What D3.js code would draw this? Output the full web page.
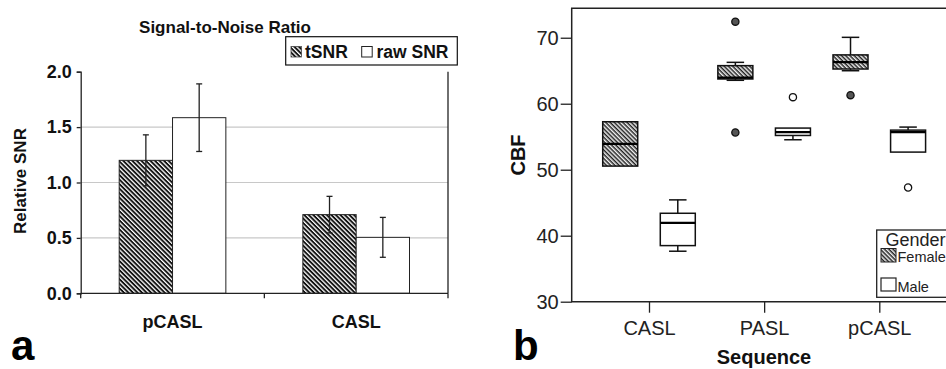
<!DOCTYPE html>
<html>
<head>
<meta charset="utf-8">
<script src="https://cdn.jsdelivr.net/npm/d3@7"></script>
<style>
  body { margin: 0; background: #fff; }
  svg { display: block; font-family: "Liberation Sans", Arial, sans-serif; }
</style>
</head>
<body>
<svg id="chart" width="946" height="369"></svg>
<script>
// ---- panel a data
const snrCategories = ['pCASL', 'CASL']
const snrSeries = ['tSNR', 'raw SNR']
const tsnrValues = [1.20, 0.71]
const tsnrErrors = [0.23, 0.165]
const rawValues = [1.585, 0.505]
const rawErrors = [0.305, 0.18]
const snrTicks = [0, 0.5, 1.0, 1.5, 2.0]

// ---- panel b data (box plot stats)
const seqCategories = ['CASL', 'PASL', 'pCASL']
const genders = ['Female', 'Male']
const femaleMin = [50.55, 63.55, 65.0]
const femaleQ1 = [50.55, 63.75, 65.26]
const femaleMedian = [53.93, 63.95, 66.3]
const femaleQ3 = [57.27, 65.77, 67.4]
const femaleMax = [57.27, 66.27, 70.06]
const femaleOutliers = [[], [72.44, 55.65], [61.3]]
const maleMin = [37.65, 54.54, 52.67]
const maleQ1 = [38.5, 55.19, 52.67]
const maleMedian = [41.94, 55.7, 55.7]
const maleQ3 = [43.4, 56.31, 56.0]
const maleMax = [45.43, 56.31, 56.46]
const maleOutliers = [[], [61.0], [47.3]]
const cbfTicks = [30, 40, 50, 60, 70]

const svg = d3.select('#chart')
const defs = svg.append('defs')

// Hatch patterns
function addHatch(id, size, lineW, color, bg){
    const p = defs.append('pattern')
        .attr('id', id)
        .attr('patternUnits', 'userSpaceOnUse')
        .attr('width', size)
        .attr('height', size)
        .attr('patternTransform', 'rotate(45)')
    p.append('rect').attr('width', size).attr('height', size).attr('fill', bg)
    p.append('rect').attr('width', size).attr('height', lineW).attr('fill', color)
}
addHatch('hatchA', 3.2, 1.9, '#111', '#fff')
addHatch('hatchB', 3.0, 1.5, '#222', '#f2f2f2')

// ================= Panel a =================
const a = svg.append('g').attr('font-weight', 'bold')

const yA = d3.scaleLinear().domain([0, 2]).range([293.3, 71.7])
const x0 = d3.scaleBand().domain(snrCategories).range([80.7, 448])
const x1 = d3.scaleBand().domain(snrSeries).range([38.5, x0.bandwidth() - 38.5])

// Gridlines
a.append('g')
    .selectAll('line')
    .data(snrTicks.filter(d => d > 0 && d < 2))
    .join('line')
    .attr('x1', 80.7).attr('x2', 448)
    .attr('y1', d => yA(d)).attr('y2', d => yA(d))
    .attr('stroke', '#c8c8c8').attr('stroke-width', 1.2)

// Bars
const barData = []
snrCategories.forEach(function(c, i){
    barData.push({cat: c, s: 'tSNR', v: tsnrValues[i], e: tsnrErrors[i]})
    barData.push({cat: c, s: 'raw SNR', v: rawValues[i], e: rawErrors[i]})
})

a.append('g')
    .selectAll('rect')
    .data(barData)
    .join('rect')
    .attr('x', d => x0(d.cat) + x1(d.s))
    .attr('y', d => yA(d.v))
    .attr('width', x1.bandwidth())
    .attr('height', d => yA(0) - yA(d.v))
    .attr('fill', d => d.s == 'tSNR' ? 'url(#hatchA)' : '#fff')
    .attr('stroke', '#222')
    .attr('stroke-width', 1)

// Error bars
const errG = a.append('g').attr('stroke', '#222').attr('stroke-width', 1.3)
barData.forEach(function(d){
    const cx = x0(d.cat) + x1(d.s) + x1.bandwidth() / 2
    errG.append('line').attr('x1', cx).attr('x2', cx).attr('y1', yA(d.v + d.e)).attr('y2', yA(d.v - d.e))
    errG.append('line').attr('x1', cx - 3).attr('x2', cx + 3).attr('y1', yA(d.v + d.e)).attr('y2', yA(d.v + d.e))
    errG.append('line').attr('x1', cx - 3).attr('x2', cx + 3).attr('y1', yA(d.v - d.e)).attr('y2', yA(d.v - d.e))
})

// Y axis
const yAxisA = a.append('g')
    .attr('transform', 'translate(80.7,0)')
    .call(d3.axisLeft(yA).tickValues(snrTicks).tickFormat(d3.format('.1f')).tickSize(4).tickPadding(5))
yAxisA.select('.domain').attr('stroke', '#222').attr('stroke-width', 1.3)
yAxisA.selectAll('.tick line').attr('stroke', '#222').attr('stroke-width', 1.3)
yAxisA.selectAll('text').attr('font-size', 18).attr('font-family', 'Liberation Sans, Arial').attr('font-weight', 'bold').attr('fill', '#111')

// X axis line + ticks at band edges
a.append('line').attr('x1', 80.7).attr('x2', 448).attr('y1', yA(0)).attr('y2', yA(0))
    .attr('stroke', '#222').attr('stroke-width', 1.3)
a.append('g')
    .selectAll('line')
    .data([80.7, x0('CASL'), 448])
    .join('line')
    .attr('x1', d => d).attr('x2', d => d)
    .attr('y1', yA(0)).attr('y2', yA(0) + 5)
    .attr('stroke', '#222').attr('stroke-width', 1.3)
// right border
a.append('line').attr('x1', 448).attr('x2', 448).attr('y1', yA(2)).attr('y2', yA(0))
    .attr('stroke', '#222').attr('stroke-width', 1.3)

a.append('g')
    .selectAll('text')
    .data(snrCategories)
    .join('text')
    .attr('x', d => x0(d) + x0.bandwidth() / 2)
    .attr('y', 328)
    .attr('text-anchor', 'middle')
    .attr('font-size', 18)
    .attr('fill', '#111')
    .text(d => d)

// Title + axis title
a.append('text').attr('x', 225).attr('y', 33).attr('text-anchor', 'middle')
    .attr('font-size', 17).attr('fill', '#111').text('Signal-to-Noise Ratio')
a.append('text').attr('transform', 'translate(26,181) rotate(-90)').attr('text-anchor', 'middle')
    .attr('font-size', 17).attr('fill', '#111').text('Relative SNR')

// Legend a
const legA = a.append('g')
legA.append('rect').attr('x', 285.7).attr('y', 36.7).attr('width', 171.6).attr('height', 28.3)
    .attr('fill', '#fff').attr('stroke', '#111').attr('stroke-width', 1.2)
legA.append('rect').attr('x', 291).attr('y', 46.5).attr('width', 10.5).attr('height', 10.5)
    .attr('fill', 'url(#hatchA)').attr('stroke', '#444').attr('stroke-width', 0.8)
legA.append('text').attr('x', 305).attr('y', 57.5).attr('font-size', 17.5).attr('fill', '#111').text(snrSeries[0])
legA.append('rect').attr('x', 361.7).attr('y', 46.5).attr('width', 10.5).attr('height', 10.5)
    .attr('fill', '#fff').attr('stroke', '#222').attr('stroke-width', 1)
legA.append('text').attr('x', 376.5).attr('y', 57.5).attr('font-size', 17.5).attr('fill', '#111').text(snrSeries[1])

a.append('text').attr('x', 11).attr('y', 360).attr('font-size', 42).attr('fill', '#000').text('a')

// ================= Panel b =================
const b = svg.append('g')

const yB = d3.scaleLinear().domain([30, 74.46]).range([301.7, 8.3])
const xB = d3.scalePoint().domain(seqCategories).range([649, 879.3])
const step = xB.step()
const boxW = 35
const capW = 17.5

// frame (right side runs off the picture)
b.append('path')
    .attr('d', 'M960,' + yB.range()[1] + 'H571.7V' + yB.range()[0] + 'H960')
    .attr('fill', 'none').attr('stroke', '#222').attr('stroke-width', 1.5)

// Y axis ticks
const yAxisB = b.append('g')
    .attr('transform', 'translate(571.7,0)')
    .call(d3.axisLeft(yB).tickValues(cbfTicks).tickSize(11).tickPadding(2))
yAxisB.select('.domain').remove()
yAxisB.selectAll('.tick line').attr('stroke', '#222').attr('stroke-width', 1.3)
yAxisB.selectAll('text').attr('font-size', 20).attr('font-family', 'Liberation Sans, Arial').attr('fill', '#222')

// X axis ticks
const xAxisB = b.append('g')
    .attr('transform', 'translate(0,' + yB(30) + ')')
    .call(d3.axisBottom(xB).tickSize(11).tickPadding(8))
xAxisB.select('.domain').remove()
xAxisB.selectAll('.tick line').attr('stroke', '#222').attr('stroke-width', 1.3)
xAxisB.selectAll('text').attr('font-size', 20).attr('font-family', 'Liberation Sans, Arial').attr('fill', '#222')

b.append('text').attr('x', 764).attr('y', 364).attr('text-anchor', 'middle')
    .attr('font-size', 20).attr('font-weight', 'bold').attr('fill', '#111').text('Sequence')
b.append('text').attr('transform', 'translate(525,155) rotate(-90)').attr('text-anchor', 'middle')
    .attr('font-size', 20).attr('font-weight', 'bold').attr('fill', '#111').text('CBF')

// Boxes
const boxData = []
seqCategories.forEach(function(c, i){
    boxData.push({cat: c, g: 'Female', off: -step / 4, min: femaleMin[i], q1: femaleQ1[i], med: femaleMedian[i], q3: femaleQ3[i], max: femaleMax[i], out: femaleOutliers[i]})
    boxData.push({cat: c, g: 'Male', off: step / 4, min: maleMin[i], q1: maleQ1[i], med: maleMedian[i], q3: maleQ3[i], max: maleMax[i], out: maleOutliers[i]})
})

const boxG = b.append('g')
    .selectAll('g')
    .data(boxData)
    .join('g')
    .attr('transform', d => 'translate(' + (xB(d.cat) + d.off) + ',0)')

// whiskers
boxG.each(function(d){
    const g = d3.select(this)
    if (d.max > d.q3){
        g.append('line').attr('x1', 0).attr('x2', 0).attr('y1', yB(d.max)).attr('y2', yB(d.q3)).attr('stroke', '#111').attr('stroke-width', 1.5)
        g.append('line').attr('x1', -capW / 2).attr('x2', capW / 2).attr('y1', yB(d.max)).attr('y2', yB(d.max)).attr('stroke', '#111').attr('stroke-width', 1.5)
    }
    if (d.min < d.q1){
        g.append('line').attr('x1', 0).attr('x2', 0).attr('y1', yB(d.min)).attr('y2', yB(d.q1)).attr('stroke', '#111').attr('stroke-width', 1.5)
        g.append('line').attr('x1', -capW / 2).attr('x2', capW / 2).attr('y1', yB(d.min)).attr('y2', yB(d.min)).attr('stroke', '#111').attr('stroke-width', 1.5)
    }
})

boxG.append('rect')
    .attr('x', -boxW / 2)
    .attr('y', d => yB(d.q3))
    .attr('width', boxW)
    .attr('height', d => yB(d.q1) - yB(d.q3))
    .attr('fill', d => d.g == 'Female' ? 'url(#hatchB)' : '#fff')
    .attr('stroke', '#111')
    .attr('stroke-width', 1.5)

boxG.append('line')
    .attr('x1', -boxW / 2).attr('x2', boxW / 2)
    .attr('y1', d => yB(d.med)).attr('y2', d => yB(d.med))
    .attr('stroke', '#000').attr('stroke-width', 2.2)

boxG.selectAll('circle')
    .data(d => d.out.map(v => ({v: v, g: d.g})))
    .join('circle')
    .attr('cx', 0)
    .attr('cy', d => yB(d.v))
    .attr('r', 3.6)
    .attr('fill', d => d.g == 'Female' ? '#555' : '#fff')
    .attr('stroke', '#111')
    .attr('stroke-width', 1.3)

// Legend b
const legB = b.append('g')
legB.append('rect').attr('x', 876.7).attr('y', 230).attr('width', 100).attr('height', 67.3)
    .attr('fill', '#fff').attr('stroke', '#222').attr('stroke-width', 1.3)
legB.append('text').attr('x', 885.5).attr('y', 245.5).attr('font-size', 18).attr('fill', '#222').text('Gender')
legB.append('rect').attr('x', 881).attr('y', 248.5).attr('width', 15).attr('height', 13.5)
    .attr('fill', 'url(#hatchB)').attr('stroke', '#222').attr('stroke-width', 1)
legB.append('text').attr('x', 897.5).attr('y', 262).attr('font-size', 14.5).attr('fill', '#222').text(genders[0])
legB.append('rect').attr('x', 881).attr('y', 278).attr('width', 15).attr('height', 13)
    .attr('fill', '#fff').attr('stroke', '#222').attr('stroke-width', 1.2)
legB.append('text').attr('x', 897.5).attr('y', 291.5).attr('font-size', 14.5).attr('fill', '#222').text(genders[1])

b.append('text').attr('x', 513).attr('y', 360).attr('font-size', 42).attr('font-weight', 'bold').attr('fill', '#000').text('b')
</script>
</body>
</html>
